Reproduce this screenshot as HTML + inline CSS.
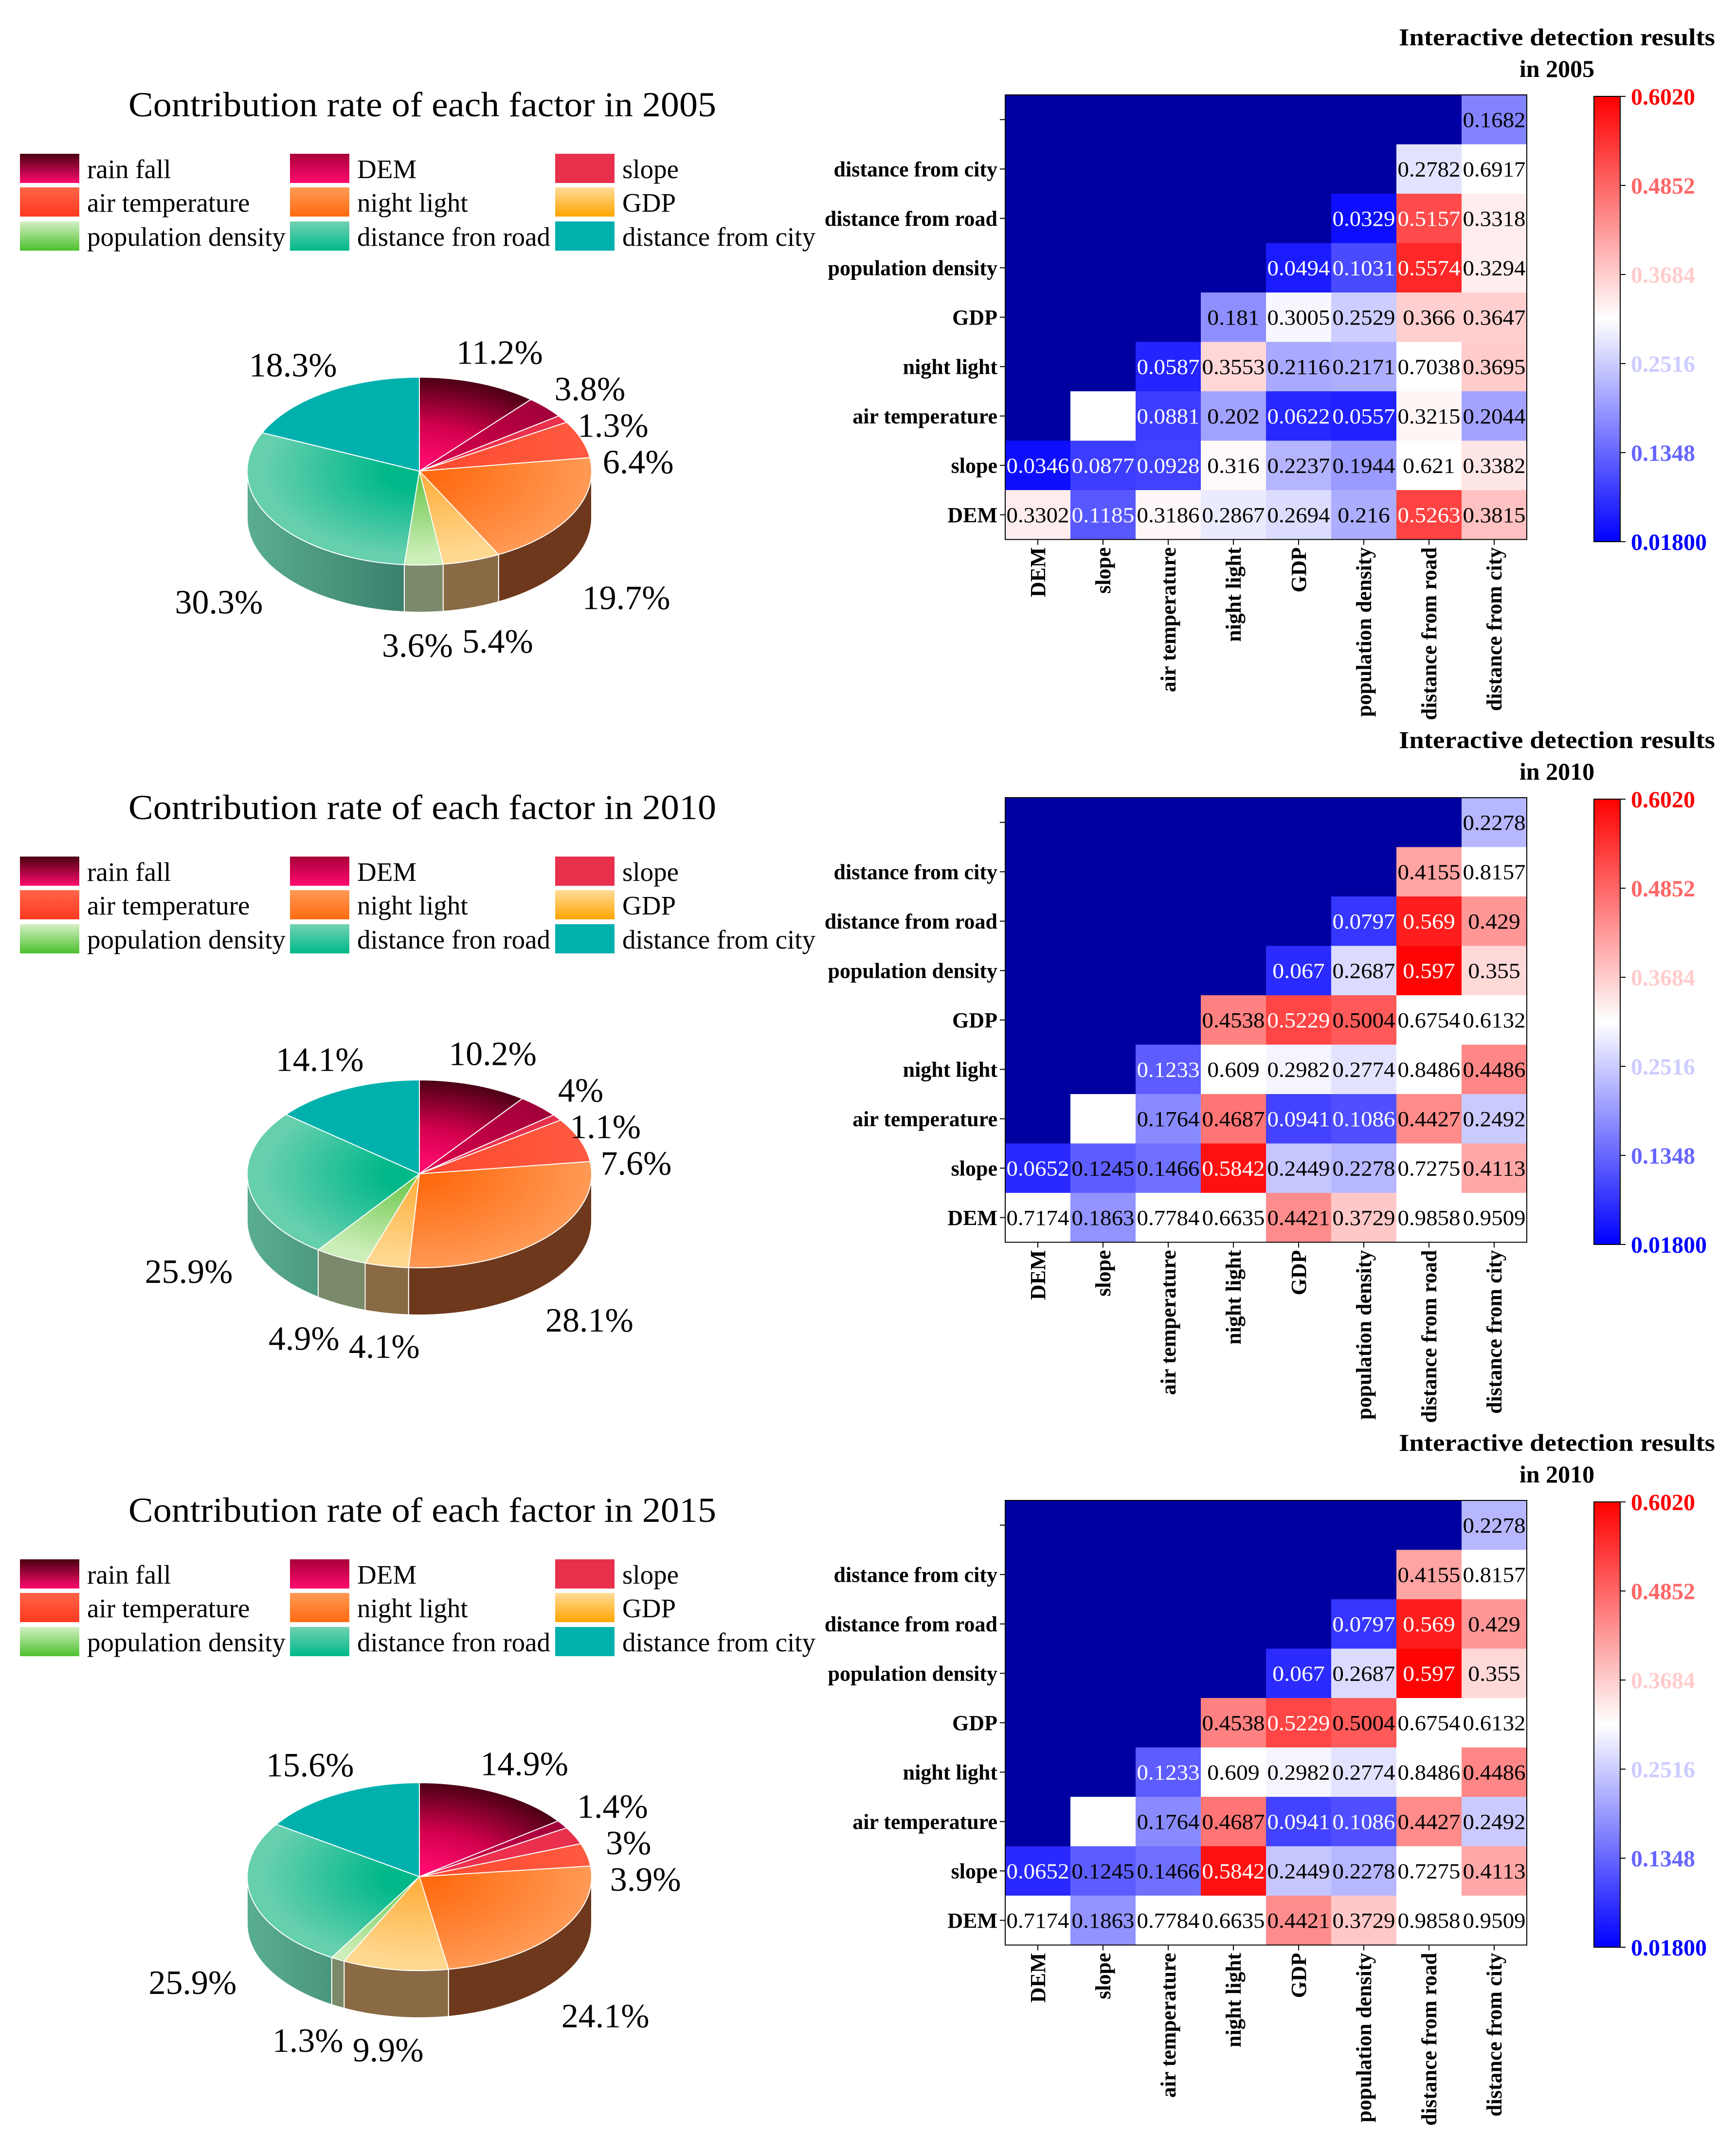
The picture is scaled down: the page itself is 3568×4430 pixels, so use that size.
<!DOCTYPE html>
<html><head><meta charset="utf-8"><style>
html,body{margin:0;padding:0;background:#fff;}
svg{display:block;font-family:"Liberation Serif",serif;}
</style></head><body>
<svg id="root" xmlns="http://www.w3.org/2000/svg" width="3568" height="4430" viewBox="0 0 3568 4430">
<defs>
  <linearGradient id="lg-rain" x1="0" y1="0" x2="0" y2="1"><stop offset="0" stop-color="#4a0010"/><stop offset="1" stop-color="#ff0a6e"/></linearGradient>
  <linearGradient id="lg-dem" x1="0" y1="0" x2="0" y2="1"><stop offset="0" stop-color="#a8003a"/><stop offset="1" stop-color="#ff0a6e"/></linearGradient>
  <linearGradient id="lg-slope" x1="0" y1="0" x2="0" y2="1"><stop offset="0" stop-color="#e8304c"/><stop offset="1" stop-color="#e8304c"/></linearGradient>
  <linearGradient id="lg-air" x1="0" y1="0" x2="0" y2="1"><stop offset="0" stop-color="#ff6448"/><stop offset="1" stop-color="#ff3a20"/></linearGradient>
  <linearGradient id="lg-night" x1="0" y1="0" x2="0" y2="1"><stop offset="0" stop-color="#ff9a55"/><stop offset="1" stop-color="#ff6a10"/></linearGradient>
  <linearGradient id="lg-gdp" x1="0" y1="0" x2="0" y2="1"><stop offset="0" stop-color="#ffdc98"/><stop offset="1" stop-color="#ffa500"/></linearGradient>
  <linearGradient id="lg-pop" x1="0" y1="0" x2="0" y2="1"><stop offset="0" stop-color="#d4f0c4"/><stop offset="1" stop-color="#4cc02c"/></linearGradient>
  <linearGradient id="lg-road" x1="0" y1="0" x2="0" y2="1"><stop offset="0" stop-color="#72d2b2"/><stop offset="1" stop-color="#00b88a"/></linearGradient>
  <linearGradient id="lg-city" x1="0" y1="0" x2="0" y2="1"><stop offset="0" stop-color="#00b0ad"/><stop offset="1" stop-color="#00b0ad"/></linearGradient>

  <radialGradient id="rg-rain" gradientUnits="userSpaceOnUse" cx="862" cy="968" r="354" gradientTransform="translate(862,968) scale(1,0.545) translate(-862,-968)"><stop offset="0.1" stop-color="#ff0a6e"/><stop offset="0.5" stop-color="#d0004c"/><stop offset="1" stop-color="#4a0014"/></radialGradient>
  <radialGradient id="rg-dem" gradientUnits="userSpaceOnUse" cx="862" cy="968" r="354" gradientTransform="translate(862,968) scale(1,0.545) translate(-862,-968)"><stop offset="0" stop-color="#e0004e"/><stop offset="1" stop-color="#a0003a"/></radialGradient>
  <radialGradient id="rg-slope" gradientUnits="userSpaceOnUse" cx="862" cy="968" r="354"><stop offset="0" stop-color="#f03050"/><stop offset="1" stop-color="#e8304c"/></radialGradient>
  <radialGradient id="rg-air" gradientUnits="userSpaceOnUse" cx="862" cy="968" r="354"><stop offset="0" stop-color="#ff4a30"/><stop offset="1" stop-color="#ff5a40"/></radialGradient>
  <radialGradient id="rg-night" gradientUnits="userSpaceOnUse" cx="862" cy="968" r="354" gradientTransform="translate(862,968) scale(1,0.545) translate(-862,-968)"><stop offset="0.1" stop-color="#ff6a10"/><stop offset="1" stop-color="#ff9a55"/></radialGradient>
  <radialGradient id="rg-gdp" gradientUnits="userSpaceOnUse" cx="862" cy="968" r="354" gradientTransform="translate(862,968) scale(1,0.545) translate(-862,-968)"><stop offset="0.1" stop-color="#ffb040"/><stop offset="0.9" stop-color="#ffd890"/></radialGradient>
  <radialGradient id="rg-pop" gradientUnits="userSpaceOnUse" cx="862" cy="968" r="354" gradientTransform="translate(862,968) scale(1,0.545) translate(-862,-968)"><stop offset="0.1" stop-color="#70c850"/><stop offset="0.9" stop-color="#cceeb8"/></radialGradient>
  <radialGradient id="rg-road" gradientUnits="userSpaceOnUse" cx="862" cy="968" r="354" gradientTransform="translate(862,968) scale(1,0.545) translate(-862,-968)"><stop offset="0.2" stop-color="#00b88a"/><stop offset="0.9" stop-color="#66cfae"/></radialGradient>
  <radialGradient id="rg-city" gradientUnits="userSpaceOnUse" cx="862" cy="968" r="354"><stop offset="0" stop-color="#00b0ad"/><stop offset="1" stop-color="#00b0ad"/></radialGradient>

  <linearGradient id="side-road" gradientUnits="userSpaceOnUse" x1="508" y1="0" x2="840" y2="0"><stop offset="0" stop-color="#5aae90"/><stop offset="1" stop-color="#3a7e6c"/></linearGradient>
  <linearGradient id="cbar-grad" x1="0" y1="0" x2="0" y2="1"><stop offset="0" stop-color="#ff0000"/><stop offset="0.5" stop-color="#ffffff"/><stop offset="1" stop-color="#0000ff"/></linearGradient>
</defs>
</svg>
<script>
// ---- pie data ----
const pieFactors = ['rain fall','DEM','slope','air temperature','night light','GDP','population density','distance fron road','distance from city'];
const pie2005 = [11.2, 3.8, 1.3, 6.4, 19.7, 5.4, 3.6, 30.3, 18.3];
const pie2010 = [10.2, 4, 1.1, 7.6, 28.1, 4.1, 4.9, 25.9, 14.1];
const pie2015 = [14.9, 1.4, 3, 3.9, 24.1, 9.9, 1.3, 25.9, 15.6];
const pieTitles = ['Contribution rate of each factor in 2005','Contribution rate of each factor in 2010','Contribution rate of each factor in 2015'];

// ---- heatmap data ----
const hmRowLabels = ['', 'distance from city','distance from road','population density','GDP','night light','air temperature','slope','DEM'];
const hmColLabels = ['DEM','slope','air temperature','night light','GDP','population density','distance from road','distance from city'];
const hmTicks = [0.6020, 0.4852, 0.3684, 0.2516, 0.1348, 0.01800];
const hmTickText = ['0.6020','0.4852','0.3684','0.2516','0.1348','0.01800'];
const hmYears = ['in 2005','in 2010','in 2010'];
const M = null; // masked
const hm2005 = [
 [M,M,M,M,M,M,M,0.1682],
 [M,M,M,M,M,M,0.2782,0.6917],
 [M,M,M,M,M,0.0329,0.5157,0.3318],
 [M,M,M,M,0.0494,0.1031,0.5574,0.3294],
 [M,M,M,0.181,0.3005,0.2529,0.366,0.3647],
 [M,M,0.0587,0.3553,0.2116,0.2171,0.7038,0.3695],
 [M,NaN,0.0881,0.202,0.0622,0.0557,0.3215,0.2044],
 [0.0346,0.0877,0.0928,0.316,0.2237,0.1944,0.621,0.3382],
 [0.3302,0.1185,0.3186,0.2867,0.2694,0.216,0.5263,0.3815]
];
const hm2010 = [
 [M,M,M,M,M,M,M,0.2278],
 [M,M,M,M,M,M,0.4155,0.8157],
 [M,M,M,M,M,0.0797,0.569,0.429],
 [M,M,M,M,0.067,0.2687,0.597,0.355],
 [M,M,M,0.4538,0.5229,0.5004,0.6754,0.6132],
 [M,M,0.1233,0.609,0.2982,0.2774,0.8486,0.4486],
 [M,NaN,0.1764,0.4687,0.0941,0.1086,0.4427,0.2492],
 [0.0652,0.1245,0.1466,0.5842,0.2449,0.2278,0.7275,0.4113],
 [0.7174,0.1863,0.7784,0.6635,0.4421,0.3729,0.9858,0.9509]
];
const pieSets = [pie2005, pie2010, pie2015];
const hmSets = [hm2005, hm2010, hm2010];

const NS = 'http://www.w3.org/2000/svg';
const root = document.getElementById('root');
function mk(tag, attrs, parent){
  const e = document.createElementNS(NS, tag);
  for (const k in attrs) e.setAttribute(k, attrs[k]);
  (parent||root).appendChild(e);
  return e;
}
const VMIN = 0.018, VMAX = 0.602;
function bwr(v){
  let t = (v - VMIN)/(VMAX - VMIN); t = Math.max(0, Math.min(1, t));
  let r,g,b;
  if (t < 0.5){ r = g = Math.round(510*t); b = 255; }
  else { r = 255; g = b = Math.round(255*(2-2*t)); }
  return 'rgb('+r+','+g+','+b+')';
}
function fmt(v){ return String(v); }

const legendSw = ['lg-rain','lg-dem','lg-slope','lg-air','lg-night','lg-gdp','lg-pop','lg-road','lg-city'];
const topFill = ['rg-rain','rg-dem','rg-slope','rg-air','rg-night','rg-gdp','rg-pop','rg-road','rg-city'];
const sideFill = ['#5a1020','#700028','#8a2030','#8a3020','#6e381c','#8a6a45','#7a8a6a','url(#side-road)','#2a7a78'];

const PANEL_DY = 1444;
const CX = 862, CY = 968, RX = 354, RY = 193, DEPTH = 97;
function pt(deg, dy){ const a = deg*Math.PI/180; return [CX + RX*Math.sin(a), CY - RY*Math.cos(a) + (dy||0)]; }

for (let p = 0; p < 3; p++){
  const g = mk('g', {transform:'translate(0,'+(p*PANEL_DY)+')'});
  
  

  const tt = mk('text', {x:264, y:239, 'font-size':72, textLength:1208, lengthAdjust:'spacingAndGlyphs', fill:'#000'}, g);
  tt.textContent = pieTitles[p];
  
  

  const lg = mk('g', {}, g);
  
  
  const colX = [41, 596, 1141], rowY = [316, 385, 455];
  for (let i = 0; i < 9; i++){
    const c = i % 3, r = Math.floor(i/3);
    const it = mk('g', {}, lg);
    
    
    const sw = mk('rect', {x:colX[c], y:rowY[r], width:122, height:60, fill:'url(#'+legendSw[i]+')'}, it);
    
    
    const tx = mk('text', {x:colX[c]+138, y:rowY[r]+50, 'font-size':55, fill:'#000'}, it);
    tx.textContent = pieFactors[i];
    
    
  }

  const vals = pieSets[p];
  const total = vals.reduce((a,b)=>a+b,0);
  const angles = []; let acc = 0;
  for (const v of vals){ const a0 = acc/total*360; acc += v; angles.push([a0, acc/total*360]); }
  const pg = mk('g', {}, g);
  
  
  for (let i = 0; i < vals.length; i++){
    const s = Math.max(angles[i][0], 90), e = Math.min(angles[i][1], 270);
    if (s >= e) continue;
    const A = pt(s), B = pt(e), B2 = pt(e, DEPTH), A2 = pt(s, DEPTH);
    const large = (e - s) > 180 ? 1 : 0;
    const d = 'M'+A[0]+' '+A[1]+' A'+RX+' '+RY+' 0 '+large+' 1 '+B[0]+' '+B[1]+
              ' L'+B2[0]+' '+B2[1]+' A'+RX+' '+RY+' 0 '+large+' 0 '+A2[0]+' '+A2[1]+' Z';
    const sp = mk('path', {d:d, fill:sideFill[i], stroke:'#fff', 'stroke-width':2}, pg);
    
    
  }
  for (let i = 0; i < vals.length; i++){
    const [a0, a1] = angles[i];
    const A = pt(a0), B = pt(a1);
    const large = (a1 - a0) > 180 ? 1 : 0;
    const d = 'M'+CX+' '+CY+' L'+A[0]+' '+A[1]+' A'+RX+' '+RY+' 0 '+large+' 1 '+B[0]+' '+B[1]+' Z';
    const sl = mk('path', {d:d, fill:'url(#'+topFill[i]+')', stroke:'#fff', 'stroke-width':2, 'stroke-linejoin':'round'}, pg);
    
    
  }
  // label positions
  const labs = [];
  for (let i = 0; i < vals.length; i++){
    const m = (angles[i][0] + angles[i][1]) / 2 * Math.PI/180;
    const c = Math.cos(m), s = Math.sin(m);
    let lx = CX + RX*1.35*s;
    let ly = CY - RY*1.35*c + (c < 0 ? DEPTH + 80*(1 - Math.abs(c)) : 0);
    labs.push({i:i, x:lx, y:ly, c:c, s:s});
  }
  // spread upper-right labels vertically
  let prevY = -1e9;
  for (const L of labs){
    if (L.s > 0 && L.c > 0){
      if (L.y < prevY + 75) L.y = prevY + 75;
      prevY = L.y;
    }
  }
  // spread bottom labels horizontally
  const bottom = labs.filter(L => L.c < -0.7).sort((a,b)=>a.x-b.x);
  for (let k = 1; k < bottom.length; k++){
    const dx = bottom[k].x - bottom[k-1].x;
    if (dx < 165){ const d = (165 - dx)/2; bottom[k].x += d; bottom[k-1].x -= d; }
  }
  for (const L of labs){
    const lt = mk('text', {x:L.x, y:L.y + 24, 'font-size':70, 'text-anchor':'middle', fill:'#000'}, pg);
    lt.textContent = vals[L.i] + '%';
    
    
  }

  // ----- heatmap -----
  const data = hmSets[p];
  const HL = 2066, HT = 195, CW = 134, CH = 101.5;
  const nR = data.length, nC = hmColLabels.length;
  const colX2 = c => HL + c*CW;
  const rowY2 = r => HT + r*CH;
  const hg = mk('g', {}, g);
  
  

  const h1 = mk('text', {x:3200, y:93, 'font-size':50, 'font-weight':'bold', 'text-anchor':'middle', textLength:650, lengthAdjust:'spacingAndGlyphs'}, hg);
  h1.textContent = 'Interactive detection results';
  
  
  const h2 = mk('text', {x:3200, y:158, 'font-size':50, 'font-weight':'bold', 'text-anchor':'middle'}, hg);
  h2.textContent = hmYears[p];
  
  

  for (let r = 0; r < nR; r++){
    for (let c = 0; c < nC; c++){
      const v = data[r][c];
      let fill;
      if (v === null) fill = '#0000a0';
      else if (isNaN(v) || v > VMAX) fill = '#ffffff';
      else fill = bwr(v);
      const cell = mk('rect', {x:colX2(c), y:rowY2(r), width:CW+0.6, height:CH+0.6, fill:fill}, hg);
      
      
      if (v !== null && !isNaN(v)){
        const white = (v < 0.1245) || (v > 0.508 && v <= VMAX);
        const ct = mk('text', {x:colX2(c)+CW/2, y:rowY2(r)+CH/2+15, 'font-size':44, 'text-anchor':'middle', fill: white ? '#fff' : '#000', textLength:Math.min(CW-2, fmt(v).length*21.5), lengthAdjust:'spacingAndGlyphs'}, hg);
        ct.textContent = fmt(v);
        
        
      }
    }
  }
  const fr = mk('rect', {x:HL, y:HT, width:nC*CW, height:nR*CH, fill:'none', stroke:'#000', 'stroke-width':2}, hg);
  
  

  for (let r = 0; r < nR; r++){
    const y = rowY2(r) + CH/2;
    const tk = mk('line', {x1:HL-11, x2:HL, y1:y, y2:y, stroke:'#000', 'stroke-width':2}, hg);
    
    
    const yl = mk('text', {x:HL-16, y:y+15, 'font-size':44, 'font-weight':'bold', 'text-anchor':'end'}, hg);
    yl.textContent = hmRowLabels[r];
    
    
  }
  const HB = HT + nR*CH;
  for (let c = 0; c < nC; c++){
    const x = colX2(c) + CW/2;
    const tk = mk('line', {x1:x, x2:x, y1:HB, y2:HB+11, stroke:'#000', 'stroke-width':2}, hg);
    
    
    const xl = mk('text', {x:0, y:0, 'font-size':44, 'font-weight':'bold', 'text-anchor':'end', transform:'translate('+(x+15)+','+(HB+16)+') rotate(-90)'}, hg);
    xl.textContent = hmColLabels[c];
    
    
  }

  const CBX = 3276, CBT = 198, CBB = 1113, CBW = 54;
  const cb = mk('rect', {x:CBX, y:CBT, width:CBW, height:CBB-CBT, fill:'url(#cbar-grad)', stroke:'#000', 'stroke-width':2}, hg);
  
  
  const cbY = v => CBB - (v - VMIN)/(VMAX - VMIN)*(CBB - CBT);
  for (let i = 0; i < hmTicks.length; i++){
    const y = cbY(hmTicks[i]);
    const tk = mk('line', {x1:CBX+CBW, x2:CBX+CBW+11, y1:y, y2:y, stroke:'#000', 'stroke-width':2}, hg);
    
    
    const tl = mk('text', {x:CBX+CBW+22, y:y+17, 'font-size':48, 'font-weight':'bold', fill:bwr(hmTicks[i])}, hg);
    tl.textContent = hmTickText[i];
    
    
  }
}
</script>
</body></html>
